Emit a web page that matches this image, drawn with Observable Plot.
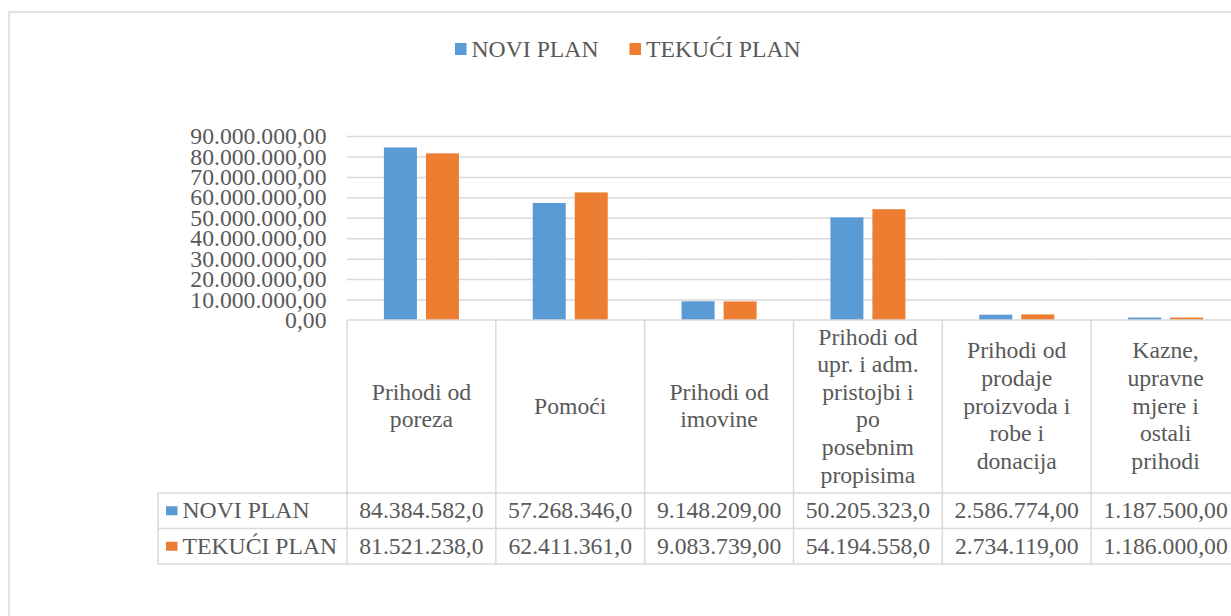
<!DOCTYPE html>
<html><head><meta charset="utf-8">
<script src="https://cdn.jsdelivr.net/npm/d3@7"></script>
<script src="https://cdn.jsdelivr.net/npm/@observablehq/plot@0.6"></script>
<style>
html,body{margin:0;padding:0;overflow:hidden;background:#fff;width:1231px;height:616px;}
#chart{position:relative;width:1231px;height:616px;overflow:hidden}
#chart svg{max-width:none !important;}
</style></head><body><div id="chart"></div>
<script>
const categories = [
  "Prihodi od\nporeza",
  "Pomoći",
  "Prihodi od\nimovine",
  "Prihodi od\nupr. i adm.\npristojbi i\npo\nposebnim\npropisima",
  "Prihodi od\nprodaje\nproizvoda i\nrobe i\ndonacija",
  "Kazne,\nupravne\nmjere i\nostali\nprihodi"
];
const seriesNames = ["NOVI PLAN", "TEKUĆI PLAN"];
const noviPlan = [84384582, 57268346, 9148209, 50205323, 2586774, 1187500];
const tekuciPlan = [81521238, 62411361, 9083739, 54194558, 2734119, 1186000];
const seriesValues = [noviPlan, tekuciPlan];
const seriesColors = ["#5B9BD5", "#ED7D31"];
const yTicks = [0, 10000000, 20000000, 30000000, 40000000, 50000000, 60000000, 70000000, 80000000, 90000000];

const locale = d3.formatLocale({decimal: ",", thousands: ".", grouping: [3], currency: ["", ""]});
const fmt = locale.format(",.2f");

const data = categories.flatMap((c, i) => seriesNames.map((s, j) => ({category: c, series: s, value: seriesValues[j][i]})));

const FONT = "'Liberation Serif','Times New Roman',serif";
const FS = 23.7;
const TEXT = "#595959";
const LINE = "#D9D9D9";

const chart = Plot.plot({
  width: 1240, height: 616,
  marginLeft: 347, marginRight: 0, marginTop: 136, marginBottom: 296,
  style: {fontFamily: FONT, fontSize: FS + "px", color: TEXT, background: "transparent", overflow: "visible"},
  fx: {domain: categories, padding: 0, round: false, axis: null, label: null},
  x: {domain: seriesNames, paddingInner: 0.2143, paddingOuter: 0.879, round: false, axis: null},
  y: {domain: [0, 90000000], axis: null},
  color: {domain: seriesNames, range: seriesColors},
  marks: [
    Plot.gridY(yTicks.filter(d => d > 0), {stroke: LINE, strokeOpacity: 1, strokeWidth: 1.5}),
    Plot.barY(data, {fx: "category", x: "series", y: "value", fill: "series"}),
    Plot.axisY(yTicks, {tickFormat: fmt, tickSize: 0, tickPadding: 21, label: null})
  ]
});
chart.style.maxWidth = "none";
document.getElementById("chart").appendChild(chart);

const svg = d3.select(chart);
const fxs = chart.scale("fx");
const yS = chart.scale("y");
const colorS = chart.scale("color");
let fxApply, bw;
if (fxs && fxs.apply) { fxApply = fxs.apply; bw = fxs.bandwidth; }
else { const b = d3.scaleBand(fxs.domain, fxs.range).padding(0); fxApply = b; bw = b.bandwidth(); }
const colorOf = s => (colorS && colorS.apply) ? colorS.apply(s) : seriesColors[seriesNames.indexOf(s)];

const tableTop = yS.apply(0);
const headerBottom = 493, row1Bottom = 528.5, row2Bottom = 564;
const tableLeft = 158;
const xLeft = fxApply(categories[0]);
const xRight = fxApply(categories[categories.length - 1]) + bw;

const g = svg.append("g").attr("font-family", FONT).attr("font-size", FS).attr("fill", TEXT).attr("text-anchor", "start");
const lines = g.append("g").attr("stroke", LINE).attr("stroke-width", 1.5);
// horizontal lines
lines.append("line").attr("x1", xLeft).attr("x2", xRight).attr("y1", tableTop).attr("y2", tableTop);
[headerBottom, row1Bottom, row2Bottom].forEach(y => lines.append("line").attr("x1", tableLeft).attr("x2", xRight).attr("y1", y).attr("y2", y));
// vertical lines
categories.forEach(c => lines.append("line").attr("x1", fxApply(c)).attr("x2", fxApply(c)).attr("y1", tableTop).attr("y2", row2Bottom));
lines.append("line").attr("x1", xRight).attr("x2", xRight).attr("y1", tableTop).attr("y2", row2Bottom);
lines.append("line").attr("x1", tableLeft).attr("x2", tableLeft).attr("y1", headerBottom).attr("y2", row2Bottom);

// header labels
const headerMid = (tableTop + headerBottom) / 2;
categories.forEach(c => {
  const parts = c.split("\n");
  const cx = fxApply(c) + bw / 2;
  parts.forEach((p, i) => {
    g.append("text").attr("x", cx).attr("y", headerMid + (i - (parts.length - 1) / 2) * 27.6)
      .attr("dy", "0.3em").attr("text-anchor", "middle").text(p);
  });
});

// rows
const rowMids = [(headerBottom + row1Bottom) / 2, (row1Bottom + row2Bottom) / 2];
seriesNames.forEach((s, j) => {
  const ym = rowMids[j];
  g.append("rect").attr("x", 166).attr("y", ym - 4.5).attr("width", 11.5).attr("height", 9).attr("fill", colorOf(s));
  g.append("text").attr("x", 182.5).attr("y", ym).attr("dy", "0.32em").attr("text-anchor", "start").text(s);
  categories.forEach((c, i) => {
    const full = fmt(seriesValues[j][i]);
    const t = g.append("text").attr("x", fxApply(c) + bw / 2).attr("y", ym).attr("dy", "0.32em")
      .attr("text-anchor", "middle").text(full);
    let str = full;
    while (t.node().getComputedTextLength() > bw - 18 && str.length > 1) {
      str = str.slice(0, -1);
      t.text(str);
    }
  });
});

// legend
const legendX = [455, 629.5];
seriesNames.forEach((s, j) => {
  g.append("rect").attr("x", legendX[j]).attr("y", 43).attr("width", 11.5).attr("height", 12).attr("fill", colorOf(s));
  g.append("text").attr("x", legendX[j] + 16.5).attr("y", 49).attr("dy", "0.32em").attr("text-anchor", "start").text(s);
});

// outer border
svg.append("rect").attr("x", 9).attr("y", 12).attr("width", 1400).attr("height", 800)
  .attr("fill", "none").attr("stroke", LINE).attr("stroke-width", 1.5);
</script></body></html>
